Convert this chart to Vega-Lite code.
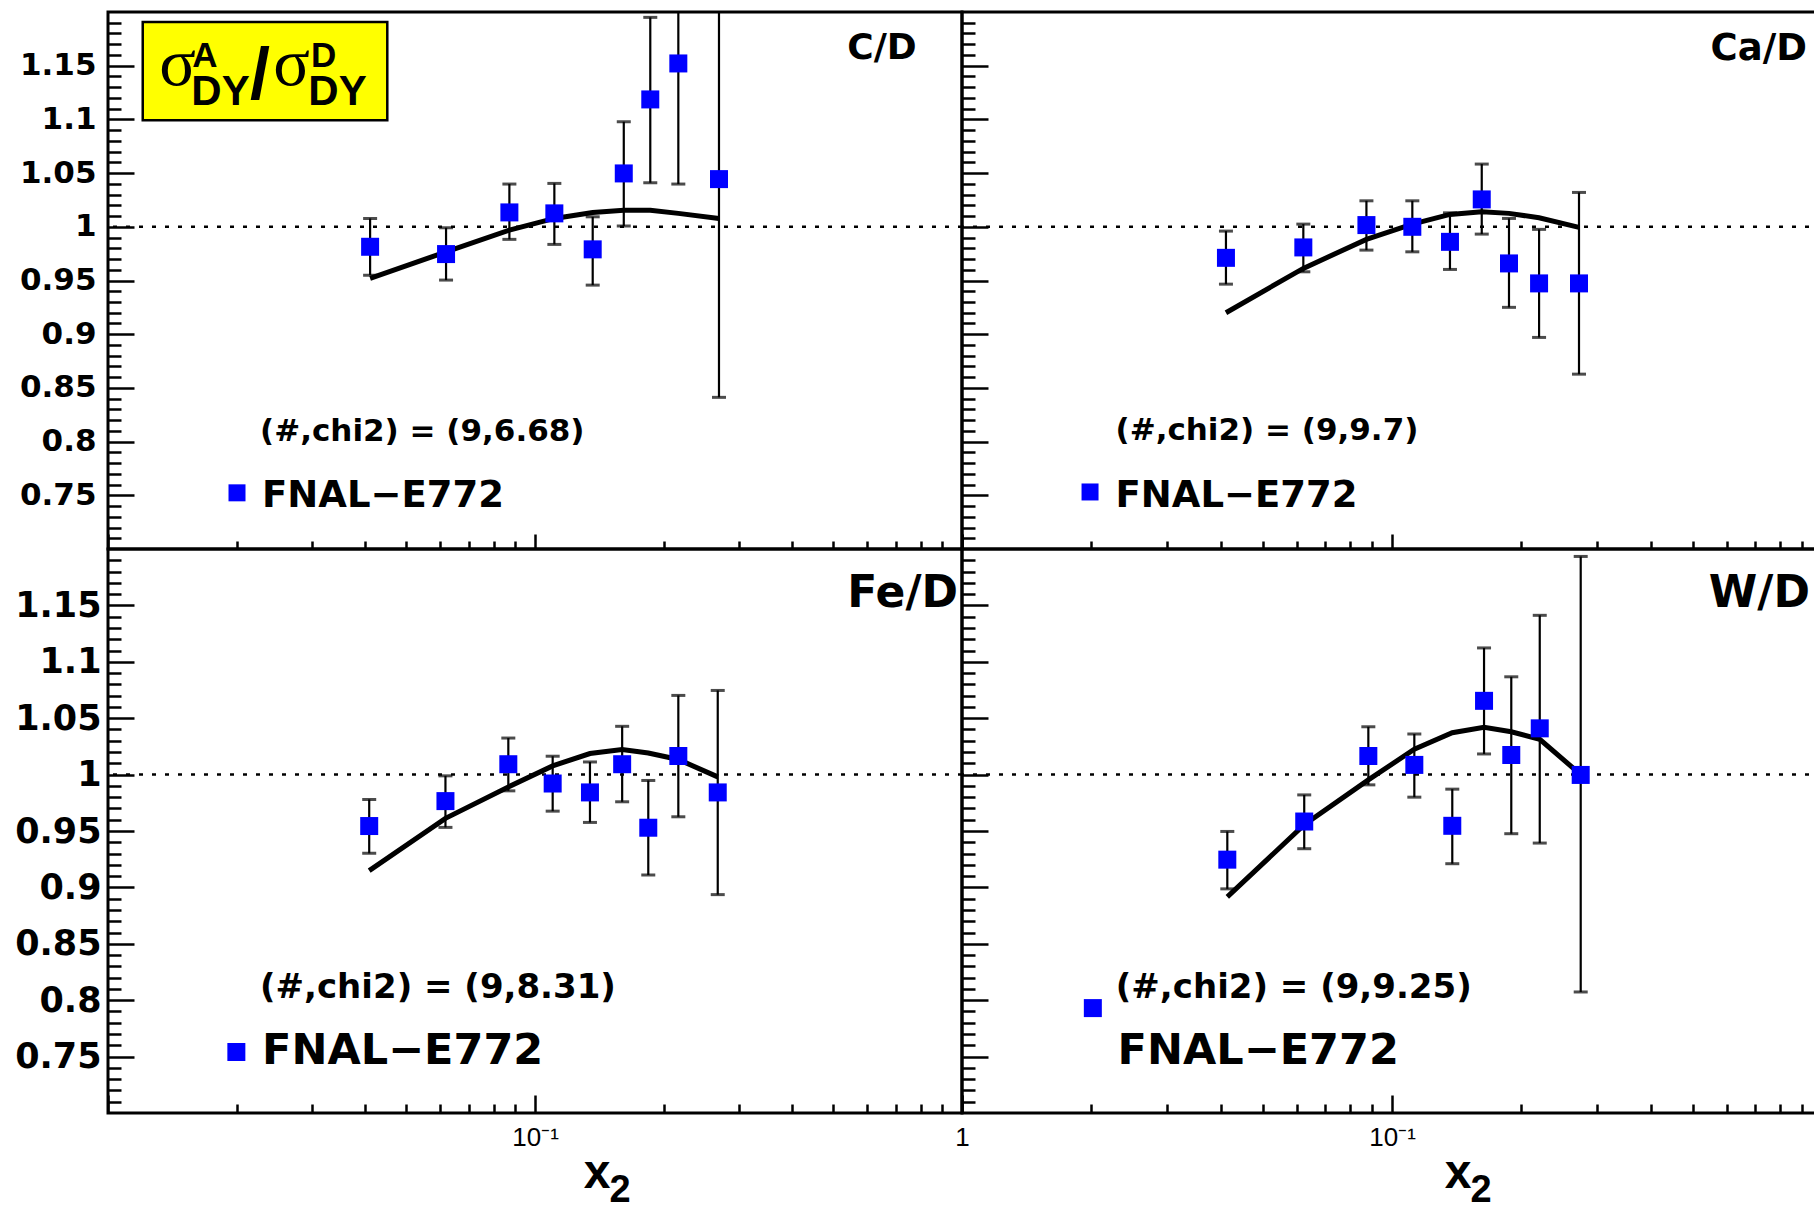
{
  "$schema": "https://vega.github.io/schema/vega-lite/v6.json",
  "background": "white",
  "padding": {"left": 6, "top": 10, "right": 0, "bottom": 0},
  "bounds": "flush",
  "spacing": 0,
  "columns": 2,
  "config": {
    "view": {"stroke": "black", "strokeWidth": 3},
    "axis": {"domain": false, "grid": false, "tickColor": "black", "tickWidth": 2.5, "labelColor": "black", "labelOverlap": false, "labelFlush": false, "ticks": true}
  },
  "datasets": {
    "pts": [
      {"p": "C", "x": 0.0411, "y": 0.9814, "lo": 0.955, "hi": 1.0078},
      {"p": "C", "x": 0.0619, "y": 0.9746, "lo": 0.9504, "hi": 0.9991},
      {"p": "C", "x": 0.0871, "y": 1.0134, "lo": 0.9883, "hi": 1.0398},
      {"p": "C", "x": 0.111, "y": 1.0125, "lo": 0.9836, "hi": 1.0404},
      {"p": "C", "x": 0.1365, "y": 0.979, "lo": 0.9457, "hi": 1.0093},
      {"p": "C", "x": 0.1614, "y": 1.0497, "lo": 1.0007, "hi": 1.0978},
      {"p": "C", "x": 0.1862, "y": 1.1186, "lo": 1.041, "hi": 1.195},
      {"p": "C", "x": 0.2166, "y": 1.1521, "lo": 1.0398, "hi": 1.264},
      {"p": "C", "x": 0.2697, "y": 1.0444, "lo": 0.8412, "hi": 1.2476},
      {"p": "Ca", "x": 0.0411, "y": 0.9711, "lo": 0.9466, "hi": 0.996},
      {"p": "Ca", "x": 0.0622, "y": 0.9808, "lo": 0.9581, "hi": 1.0025},
      {"p": "Ca", "x": 0.0872, "y": 1.0016, "lo": 0.9783, "hi": 1.0242},
      {"p": "Ca", "x": 0.1115, "y": 1.0, "lo": 0.9767, "hi": 1.0242},
      {"p": "Ca", "x": 0.1364, "y": 0.986, "lo": 0.9603, "hi": 1.013},
      {"p": "Ca", "x": 0.1617, "y": 1.0255, "lo": 0.9932, "hi": 1.0584},
      {"p": "Ca", "x": 0.1871, "y": 0.9659, "lo": 0.925, "hi": 1.0078},
      {"p": "Ca", "x": 0.2198, "y": 0.9473, "lo": 0.897, "hi": 0.9976},
      {"p": "Ca", "x": 0.2722, "y": 0.9473, "lo": 0.8628, "hi": 1.032},
      {"p": "Fe", "x": 0.0409, "y": 0.9544, "lo": 0.9302, "hi": 0.978},
      {"p": "Fe", "x": 0.0617, "y": 0.9765, "lo": 0.9532, "hi": 0.9989},
      {"p": "Fe", "x": 0.0866, "y": 1.0092, "lo": 0.9856, "hi": 1.0324},
      {"p": "Fe", "x": 0.110, "y": 0.9921, "lo": 0.9676, "hi": 1.0163},
      {"p": "Fe", "x": 0.1345, "y": 0.9842, "lo": 0.9576, "hi": 1.0112},
      {"p": "Fe", "x": 0.160, "y": 1.0092, "lo": 0.9759, "hi": 1.0428},
      {"p": "Fe", "x": 0.1842, "y": 0.9529, "lo": 0.911, "hi": 0.9948},
      {"p": "Fe", "x": 0.2166, "y": 1.0165, "lo": 0.9626, "hi": 1.0702},
      {"p": "Fe", "x": 0.2679, "y": 0.9842, "lo": 0.8936, "hi": 1.0746},
      {"p": "W", "x": 0.0414, "y": 0.9246, "lo": 0.8987, "hi": 0.9496},
      {"p": "W", "x": 0.0625, "y": 0.9584, "lo": 0.9343, "hi": 0.982},
      {"p": "W", "x": 0.0881, "y": 1.0165, "lo": 0.9909, "hi": 1.0424},
      {"p": "W", "x": 0.1127, "y": 1.0086, "lo": 0.98, "hi": 1.036},
      {"p": "W", "x": 0.1381, "y": 0.9546, "lo": 0.921, "hi": 0.9871},
      {"p": "W", "x": 0.1637, "y": 1.0654, "lo": 1.0183, "hi": 1.1123},
      {"p": "W", "x": 0.1894, "y": 1.0174, "lo": 0.9476, "hi": 1.0867},
      {"p": "W", "x": 0.2206, "y": 1.041, "lo": 0.9393, "hi": 1.1412},
      {"p": "W", "x": 0.2747, "y": 0.9997, "lo": 0.8073, "hi": 1.1934}
    ],
    "curve": [
      {"p": "C", "x": 0.0411, "y": 0.952},
      {"p": "C", "x": 0.0619, "y": 0.9767},
      {"p": "C", "x": 0.0871, "y": 0.9969},
      {"p": "C", "x": 0.111, "y": 1.0078},
      {"p": "C", "x": 0.1365, "y": 1.0134},
      {"p": "C", "x": 0.1614, "y": 1.0155},
      {"p": "C", "x": 0.1862, "y": 1.0155},
      {"p": "C", "x": 0.2166, "y": 1.0125},
      {"p": "C", "x": 0.2697, "y": 1.0078},
      {"p": "Ca", "x": 0.0411, "y": 0.92},
      {"p": "Ca", "x": 0.0622, "y": 0.9613},
      {"p": "Ca", "x": 0.0872, "y": 0.9883},
      {"p": "Ca", "x": 0.1115, "y": 1.0025},
      {"p": "Ca", "x": 0.1364, "y": 1.0115},
      {"p": "Ca", "x": 0.1617, "y": 1.014},
      {"p": "Ca", "x": 0.1871, "y": 1.0125},
      {"p": "Ca", "x": 0.2198, "y": 1.0084},
      {"p": "Ca", "x": 0.2722, "y": 0.9994},
      {"p": "Fe", "x": 0.0409, "y": 0.9149},
      {"p": "Fe", "x": 0.0617, "y": 0.9612},
      {"p": "Fe", "x": 0.0866, "y": 0.9891},
      {"p": "Fe", "x": 0.110, "y": 1.0077},
      {"p": "Fe", "x": 0.1345, "y": 1.0187},
      {"p": "Fe", "x": 0.160, "y": 1.0222},
      {"p": "Fe", "x": 0.1842, "y": 1.0192},
      {"p": "Fe", "x": 0.2166, "y": 1.0134},
      {"p": "Fe", "x": 0.2679, "y": 0.998},
      {"p": "W", "x": 0.0414, "y": 0.8916},
      {"p": "W", "x": 0.0625, "y": 0.9555},
      {"p": "W", "x": 0.0881, "y": 0.9953},
      {"p": "W", "x": 0.1127, "y": 1.0225},
      {"p": "W", "x": 0.1381, "y": 1.0371},
      {"p": "W", "x": 0.1637, "y": 1.0419},
      {"p": "W", "x": 0.1894, "y": 1.038},
      {"p": "W", "x": 0.2206, "y": 1.0313},
      {"p": "W", "x": 0.2747, "y": 1.0}
    ]
  },
  "concat": [
    {
      "width": 854, "height": 537,
      "resolve": {"axis": {"x": "independent", "y": "independent"}},
      "layer": [
        {"data": {"values": [{}]}, "mark": {"type": "rect", "fill": "#ffff00", "stroke": "black", "strokeWidth": 2.5},
         "encoding": {"x": {"datum": 0.01206, "type": "quantitative", "scale": {"type": "log", "domain": [0.01, 1], "nice": false}, "axis": null}, "x2": {"datum": 0.04509},
                      "y": {"datum": 1.1907, "type": "quantitative", "scale": {"domain": [0.7, 1.2], "nice": false, "zero": false}, "axis": null}, "y2": {"datum": 1.0993}}},
        {"data": {"values": [{}]}, "mark": {"type": "rule", "color": "black", "strokeWidth": 2.5, "strokeDash": [4, 9]},
         "encoding": {"y": {"datum": 1, "type": "quantitative", "scale": {"domain": [0.7, 1.2], "nice": false, "zero": false},
           "axis": {"orient": "left", "title": null, "values": [0.75, 0.8, 0.85, 0.9, 0.95, 1, 1.05, 1.1, 1.15], "format": "~g", "tickSize": -26, "labelPadding": 38, "labelFont": "DejaVu Sans", "labelFontWeight": "bold", "labelFontSize": 31, "minExtent": 100, "maxExtent": 100}}}},
        {"data": {"name": "curve"}, "transform": [{"filter": "datum.p == 'C'"}], "mark": {"type": "line", "color": "black", "strokeWidth": 5},
         "encoding": {"x": {"field": "x", "type": "quantitative", "scale": {"type": "log", "domain": [0.01, 1], "nice": false},
           "axis": {"orient": "bottom", "title": null, "values": [0.01, 0.1, 1], "tickSize": -15, "labels": false}},
           "y": {"field": "y", "type": "quantitative", "scale": {"domain": [0.7, 1.2], "nice": false, "zero": false},
           "axis": {"orient": "left", "title": null, "values": [0.71,0.72,0.73,0.74,0.76,0.77,0.78,0.79,0.81,0.82,0.83,0.84,0.86,0.87,0.88,0.89,0.91,0.92,0.93,0.94,0.96,0.97,0.98,0.99,1.01,1.02,1.03,1.04,1.06,1.07,1.08,1.09,1.11,1.12,1.13,1.14,1.16,1.17,1.18,1.19], "tickSize": -13, "labels": false, "minExtent": 100, "maxExtent": 100}}}},
        {"data": {"name": "pts"}, "transform": [{"filter": "datum.p == 'C'"}], "mark": {"type": "rule", "color": "black", "strokeWidth": 2.2, "clip": true},
         "encoding": {"x": {"field": "x", "type": "quantitative", "scale": {"type": "log", "domain": [0.01, 1], "nice": false},
           "axis": {"orient": "bottom", "title": null, "values": [0.02,0.03,0.04,0.05,0.06,0.07,0.08,0.09,0.2,0.3,0.4,0.5,0.6,0.7,0.8,0.9], "tickSize": -8, "labels": false}},
           "y": {"field": "lo", "type": "quantitative", "axis": null}, "y2": {"field": "hi"}}},
        {"data": {"name": "pts"}, "transform": [{"filter": "datum.p == 'C'"}], "mark": {"type": "tick", "orient": "horizontal", "color": "black", "size": 14, "thickness": 3, "clip": true},
         "encoding": {"x": {"field": "x", "type": "quantitative", "axis": null}, "y": {"field": "lo", "type": "quantitative", "axis": null}}},
        {"data": {"name": "pts"}, "transform": [{"filter": "datum.p == 'C'"}], "mark": {"type": "tick", "orient": "horizontal", "color": "black", "size": 14, "thickness": 3, "clip": true},
         "encoding": {"x": {"field": "x", "type": "quantitative", "axis": null}, "y": {"field": "hi", "type": "quantitative", "axis": null}}},
        {"data": {"name": "pts"}, "transform": [{"filter": "datum.p == 'C'"}], "mark": {"type": "point", "shape": "square", "filled": true, "color": "#0000ff", "opacity": 1, "size": 324, "strokeWidth": 0},
         "encoding": {"x": {"field": "x", "type": "quantitative", "axis": null}, "y": {"field": "y", "type": "quantitative", "axis": null}}},
        {"data": {"values": [{}]}, "mark": {"type": "text", "font": "Liberation Serif", "fontSize": 68, "align": "center", "baseline": "alphabetic", "color": "black"},
         "encoding": {"x": {"datum": 0.01455, "type": "quantitative", "axis": null}, "y": {"datum": 1.1318, "type": "quantitative", "axis": null}, "text": {"value": "σ"}}},
        {"data": {"values": [{}]}, "mark": {"type": "text", "font": "Liberation Sans", "fontWeight": "bold", "fontSize": 35, "align": "center", "baseline": "alphabetic", "color": "black"},
         "encoding": {"x": {"datum": 0.01687, "type": "quantitative", "axis": null}, "y": {"datum": 1.1488, "type": "quantitative", "axis": null}, "text": {"value": "A"}}},
        {"data": {"values": [{}]}, "mark": {"type": "text", "font": "Liberation Sans", "fontWeight": "bold", "fontSize": 42, "align": "center", "baseline": "alphabetic", "color": "black"},
         "encoding": {"x": {"datum": 0.01834, "type": "quantitative", "axis": null}, "y": {"datum": 1.1131, "type": "quantitative", "axis": null}, "text": {"value": "DY"}}},
        {"data": {"values": [{}]}, "mark": {"type": "text", "font": "Liberation Sans", "fontWeight": "bold", "fontSize": 72, "align": "center", "baseline": "alphabetic", "color": "black"},
         "encoding": {"x": {"datum": 0.0227, "type": "quantitative", "axis": null}, "y": {"datum": 1.1192, "type": "quantitative", "axis": null}, "text": {"value": "/"}}},
        {"data": {"values": [{}]}, "mark": {"type": "text", "font": "Liberation Serif", "fontSize": 68, "align": "center", "baseline": "alphabetic", "color": "black"},
         "encoding": {"x": {"datum": 0.0269, "type": "quantitative", "axis": null}, "y": {"datum": 1.1318, "type": "quantitative", "axis": null}, "text": {"value": "σ"}}},
        {"data": {"values": [{}]}, "mark": {"type": "text", "font": "Liberation Sans", "fontWeight": "bold", "fontSize": 35, "align": "center", "baseline": "alphabetic", "color": "black"},
         "encoding": {"x": {"datum": 0.03197, "type": "quantitative", "axis": null}, "y": {"datum": 1.1488, "type": "quantitative", "axis": null}, "text": {"value": "D"}}},
        {"data": {"values": [{}]}, "mark": {"type": "text", "font": "Liberation Sans", "fontWeight": "bold", "fontSize": 42, "align": "center", "baseline": "alphabetic", "color": "black"},
         "encoding": {"x": {"datum": 0.03448, "type": "quantitative", "axis": null}, "y": {"datum": 1.1131, "type": "quantitative", "axis": null}, "text": {"value": "DY"}}},
        {"data": {"values": [{}]}, "mark": {"type": "text", "font": "DejaVu Sans", "fontWeight": "bold", "fontSize": 36, "align": "right", "baseline": "alphabetic", "color": "black"},
         "encoding": {"x": {"datum": 0.7834, "type": "quantitative", "axis": null}, "y": {"datum": 1.1566, "type": "quantitative", "axis": null}, "text": {"value": "C/D"}}},
        {"data": {"values": [{}]}, "mark": {"type": "text", "font": "DejaVu Sans", "fontWeight": "bold", "fontSize": 31, "align": "left", "baseline": "alphabetic", "color": "black"},
         "encoding": {"x": {"datum": 0.0227, "type": "quantitative", "axis": null}, "y": {"datum": 0.8003, "type": "quantitative", "axis": null}, "text": {"value": "(#,chi2) = (9,6.68)"}}},
        {"data": {"values": [{}]}, "mark": {"type": "text", "font": "DejaVu Sans", "fontWeight": "bold", "fontSize": 37, "align": "left", "baseline": "alphabetic", "color": "black"},
         "encoding": {"x": {"datum": 0.02295, "type": "quantitative", "axis": null}, "y": {"datum": 0.7388, "type": "quantitative", "axis": null}, "text": {"value": "FNAL−E772"}}},
        {"data": {"values": [{}]}, "mark": {"type": "point", "shape": "square", "filled": true, "color": "#0000ff", "opacity": 1, "size": 289, "strokeWidth": 0},
         "encoding": {"x": {"datum": 0.02005, "type": "quantitative", "axis": null}, "y": {"datum": 0.7523, "type": "quantitative", "axis": null}}}
      ]
    },
    {
      "width": 860, "height": 537,
      "resolve": {"axis": {"x": "independent", "y": "independent"}},
      "layer": [
        {"data": {"values": [{}]}, "mark": {"type": "rule", "color": "black", "strokeWidth": 2.5, "strokeDash": [4, 9]},
         "encoding": {"y": {"datum": 1, "type": "quantitative", "scale": {"domain": [0.7, 1.2], "nice": false, "zero": false},
           "axis": {"orient": "left", "title": null, "values": [0.75, 0.8, 0.85, 0.9, 0.95, 1, 1.05, 1.1, 1.15], "tickSize": -26, "labels": false, "minExtent": 0, "maxExtent": 0}}}},
        {"data": {"name": "curve"}, "transform": [{"filter": "datum.p == 'Ca'"}], "mark": {"type": "line", "color": "black", "strokeWidth": 5},
         "encoding": {"x": {"field": "x", "type": "quantitative", "scale": {"type": "log", "domain": [0.01, 1], "nice": false},
           "axis": {"orient": "bottom", "title": null, "values": [0.01, 0.1, 1], "tickSize": -15, "labels": false}},
           "y": {"field": "y", "type": "quantitative", "scale": {"domain": [0.7, 1.2], "nice": false, "zero": false},
           "axis": {"orient": "left", "title": null, "values": [0.71,0.72,0.73,0.74,0.76,0.77,0.78,0.79,0.81,0.82,0.83,0.84,0.86,0.87,0.88,0.89,0.91,0.92,0.93,0.94,0.96,0.97,0.98,0.99,1.01,1.02,1.03,1.04,1.06,1.07,1.08,1.09,1.11,1.12,1.13,1.14,1.16,1.17,1.18,1.19], "tickSize": -13, "labels": false, "minExtent": 0, "maxExtent": 0}}}},
        {"data": {"name": "pts"}, "transform": [{"filter": "datum.p == 'Ca'"}], "mark": {"type": "rule", "color": "black", "strokeWidth": 2.2, "clip": true},
         "encoding": {"x": {"field": "x", "type": "quantitative", "scale": {"type": "log", "domain": [0.01, 1], "nice": false},
           "axis": {"orient": "bottom", "title": null, "values": [0.02,0.03,0.04,0.05,0.06,0.07,0.08,0.09,0.2,0.3,0.4,0.5,0.6,0.7,0.8,0.9], "tickSize": -8, "labels": false}},
           "y": {"field": "lo", "type": "quantitative", "axis": null}, "y2": {"field": "hi"}}},
        {"data": {"name": "pts"}, "transform": [{"filter": "datum.p == 'Ca'"}], "mark": {"type": "tick", "orient": "horizontal", "color": "black", "size": 14, "thickness": 3, "clip": true},
         "encoding": {"x": {"field": "x", "type": "quantitative", "axis": null}, "y": {"field": "lo", "type": "quantitative", "axis": null}}},
        {"data": {"name": "pts"}, "transform": [{"filter": "datum.p == 'Ca'"}], "mark": {"type": "tick", "orient": "horizontal", "color": "black", "size": 14, "thickness": 3, "clip": true},
         "encoding": {"x": {"field": "x", "type": "quantitative", "axis": null}, "y": {"field": "hi", "type": "quantitative", "axis": null}}},
        {"data": {"name": "pts"}, "transform": [{"filter": "datum.p == 'Ca'"}], "mark": {"type": "point", "shape": "square", "filled": true, "color": "#0000ff", "opacity": 1, "size": 324, "strokeWidth": 0},
         "encoding": {"x": {"field": "x", "type": "quantitative", "axis": null}, "y": {"field": "y", "type": "quantitative", "axis": null}}},
        {"data": {"values": [{}]}, "mark": {"type": "text", "font": "DejaVu Sans", "fontWeight": "bold", "fontSize": 37, "align": "right", "baseline": "alphabetic", "color": "black"},
         "encoding": {"x": {"datum": 0.9226, "type": "quantitative", "axis": null}, "y": {"datum": 1.155, "type": "quantitative", "axis": null}, "text": {"value": "Ca/D"}}},
        {"data": {"values": [{}]}, "mark": {"type": "text", "font": "DejaVu Sans", "fontWeight": "bold", "fontSize": 31, "align": "left", "baseline": "alphabetic", "color": "black"},
         "encoding": {"x": {"datum": 0.02275, "type": "quantitative", "axis": null}, "y": {"datum": 0.8015, "type": "quantitative", "axis": null}, "text": {"value": "(#,chi2) = (9,9.7)"}}},
        {"data": {"values": [{}]}, "mark": {"type": "text", "font": "DejaVu Sans", "fontWeight": "bold", "fontSize": 37, "align": "left", "baseline": "alphabetic", "color": "black"},
         "encoding": {"x": {"datum": 0.02275, "type": "quantitative", "axis": null}, "y": {"datum": 0.7388, "type": "quantitative", "axis": null}, "text": {"value": "FNAL−E772"}}},
        {"data": {"values": [{}]}, "mark": {"type": "point", "shape": "square", "filled": true, "color": "#0000ff", "opacity": 1, "size": 289, "strokeWidth": 0},
         "encoding": {"x": {"datum": 0.01985, "type": "quantitative", "axis": null}, "y": {"datum": 0.7531, "type": "quantitative", "axis": null}}}
      ]
    },
    {
      "width": 854, "height": 564,
      "resolve": {"axis": {"x": "independent", "y": "independent"}},
      "layer": [
        {"data": {"values": [{}]}, "mark": {"type": "rule", "color": "black", "strokeWidth": 2.5, "strokeDash": [4, 9]},
         "encoding": {"y": {"datum": 1, "type": "quantitative", "scale": {"domain": [0.7, 1.2], "nice": false, "zero": false},
           "axis": {"orient": "left", "title": null, "values": [0.75, 0.8, 0.85, 0.9, 0.95, 1, 1.05, 1.1, 1.15], "format": "~g", "tickSize": -26, "labelPadding": 33, "labelFont": "DejaVu Sans", "labelFontWeight": "bold", "labelFontSize": 35, "minExtent": 100, "maxExtent": 100}}}},
        {"data": {"name": "curve"}, "transform": [{"filter": "datum.p == 'Fe'"}], "mark": {"type": "line", "color": "black", "strokeWidth": 5},
         "encoding": {"x": {"field": "x", "type": "quantitative", "scale": {"type": "log", "domain": [0.01, 1], "nice": false},
           "axis": {"orient": "bottom", "title": null, "values": [0.01, 0.1, 1], "tickSize": -18, "labels": true, "labelExpr": "datum.value == 0.1 ? '10⁻¹' : (datum.value == 1 ? '1' : '')", "labelFont": "Liberation Sans", "labelFontSize": 26, "labelPadding": 29, "labelBaseline": "top"}},
           "y": {"field": "y", "type": "quantitative", "scale": {"domain": [0.7, 1.2], "nice": false, "zero": false},
           "axis": {"orient": "left", "title": null, "values": [0.71,0.72,0.73,0.74,0.76,0.77,0.78,0.79,0.81,0.82,0.83,0.84,0.86,0.87,0.88,0.89,0.91,0.92,0.93,0.94,0.96,0.97,0.98,0.99,1.01,1.02,1.03,1.04,1.06,1.07,1.08,1.09,1.11,1.12,1.13,1.14,1.16,1.17,1.18,1.19], "tickSize": -13, "labels": false, "minExtent": 100, "maxExtent": 100}}}},
        {"data": {"name": "pts"}, "transform": [{"filter": "datum.p == 'Fe'"}], "mark": {"type": "rule", "color": "black", "strokeWidth": 2.2, "clip": true},
         "encoding": {"x": {"field": "x", "type": "quantitative", "scale": {"type": "log", "domain": [0.01, 1], "nice": false},
           "axis": {"orient": "bottom", "title": null, "values": [0.02,0.03,0.04,0.05,0.06,0.07,0.08,0.09,0.2,0.3,0.4,0.5,0.6,0.7,0.8,0.9], "tickSize": -9, "labels": false}},
           "y": {"field": "lo", "type": "quantitative", "axis": null}, "y2": {"field": "hi"}}},
        {"data": {"name": "pts"}, "transform": [{"filter": "datum.p == 'Fe'"}], "mark": {"type": "tick", "orient": "horizontal", "color": "black", "size": 14, "thickness": 3, "clip": true},
         "encoding": {"x": {"field": "x", "type": "quantitative", "axis": null}, "y": {"field": "lo", "type": "quantitative", "axis": null}}},
        {"data": {"name": "pts"}, "transform": [{"filter": "datum.p == 'Fe'"}], "mark": {"type": "tick", "orient": "horizontal", "color": "black", "size": 14, "thickness": 3, "clip": true},
         "encoding": {"x": {"field": "x", "type": "quantitative", "axis": null}, "y": {"field": "hi", "type": "quantitative", "axis": null}}},
        {"data": {"name": "pts"}, "transform": [{"filter": "datum.p == 'Fe'"}], "mark": {"type": "point", "shape": "square", "filled": true, "color": "#0000ff", "opacity": 1, "size": 324, "strokeWidth": 0},
         "encoding": {"x": {"field": "x", "type": "quantitative", "axis": null}, "y": {"field": "y", "type": "quantitative", "axis": null}}},
        {"data": {"values": [{}]}, "mark": {"type": "text", "font": "DejaVu Sans", "fontWeight": "bold", "fontSize": 44, "align": "right", "baseline": "alphabetic", "color": "black"},
         "encoding": {"x": {"datum": 0.9786, "type": "quantitative", "axis": null}, "y": {"datum": 1.1485, "type": "quantitative", "axis": null}, "text": {"value": "Fe/D"}}},
        {"data": {"values": [{}]}, "mark": {"type": "text", "font": "DejaVu Sans", "fontWeight": "bold", "fontSize": 34, "align": "left", "baseline": "alphabetic", "color": "black"},
         "encoding": {"x": {"datum": 0.0227, "type": "quantitative", "axis": null}, "y": {"datum": 0.8019, "type": "quantitative", "axis": null}, "text": {"value": "(#,chi2) = (9,8.31)"}}},
        {"data": {"values": [{}]}, "mark": {"type": "text", "font": "DejaVu Sans", "fontWeight": "bold", "fontSize": 43, "align": "left", "baseline": "alphabetic", "color": "black"},
         "encoding": {"x": {"datum": 0.02295, "type": "quantitative", "axis": null}, "y": {"datum": 0.7435, "type": "quantitative", "axis": null}, "text": {"value": "FNAL−E772"}}},
        {"data": {"values": [{}]}, "mark": {"type": "point", "shape": "square", "filled": true, "color": "#0000ff", "opacity": 1, "size": 324, "strokeWidth": 0},
         "encoding": {"x": {"datum": 0.01998, "type": "quantitative", "axis": null}, "y": {"datum": 0.7541, "type": "quantitative", "axis": null}}},
        {"data": {"values": [{}]}, "mark": {"type": "text", "font": "Liberation Sans", "fontWeight": "bold", "fontSize": 48, "align": "center", "baseline": "alphabetic", "color": "black"},
         "encoding": {"x": {"datum": 0.1397, "type": "quantitative", "axis": null}, "y": {"datum": 0.6335, "type": "quantitative", "axis": null}, "text": {"value": "x"}}},
        {"data": {"values": [{}]}, "mark": {"type": "text", "font": "Liberation Sans", "fontWeight": "bold", "fontSize": 38, "align": "center", "baseline": "alphabetic", "color": "black"},
         "encoding": {"x": {"datum": 0.1582, "type": "quantitative", "axis": null}, "y": {"datum": 0.6215, "type": "quantitative", "axis": null}, "text": {"value": "2"}}}
      ]
    },
    {
      "width": 860, "height": 564,
      "resolve": {"axis": {"x": "independent", "y": "independent"}},
      "layer": [
        {"data": {"values": [{}]}, "mark": {"type": "rule", "color": "black", "strokeWidth": 2.5, "strokeDash": [4, 9]},
         "encoding": {"y": {"datum": 1, "type": "quantitative", "scale": {"domain": [0.7, 1.2], "nice": false, "zero": false},
           "axis": {"orient": "left", "title": null, "values": [0.75, 0.8, 0.85, 0.9, 0.95, 1, 1.05, 1.1, 1.15], "tickSize": -26, "labels": false, "minExtent": 0, "maxExtent": 0}}}},
        {"data": {"name": "curve"}, "transform": [{"filter": "datum.p == 'W'"}], "mark": {"type": "line", "color": "black", "strokeWidth": 5},
         "encoding": {"x": {"field": "x", "type": "quantitative", "scale": {"type": "log", "domain": [0.01, 1], "nice": false},
           "axis": {"orient": "bottom", "title": null, "values": [0.01, 0.1, 1], "tickSize": -18, "labels": true, "labelExpr": "datum.value == 0.1 ? '10⁻¹' : ''", "labelFont": "Liberation Sans", "labelFontSize": 26, "labelPadding": 29, "labelBaseline": "top"}},
           "y": {"field": "y", "type": "quantitative", "scale": {"domain": [0.7, 1.2], "nice": false, "zero": false},
           "axis": {"orient": "left", "title": null, "values": [0.71,0.72,0.73,0.74,0.76,0.77,0.78,0.79,0.81,0.82,0.83,0.84,0.86,0.87,0.88,0.89,0.91,0.92,0.93,0.94,0.96,0.97,0.98,0.99,1.01,1.02,1.03,1.04,1.06,1.07,1.08,1.09,1.11,1.12,1.13,1.14,1.16,1.17,1.18,1.19], "tickSize": -13, "labels": false, "minExtent": 0, "maxExtent": 0}}}},
        {"data": {"name": "pts"}, "transform": [{"filter": "datum.p == 'W'"}], "mark": {"type": "rule", "color": "black", "strokeWidth": 2.2, "clip": true},
         "encoding": {"x": {"field": "x", "type": "quantitative", "scale": {"type": "log", "domain": [0.01, 1], "nice": false},
           "axis": {"orient": "bottom", "title": null, "values": [0.02,0.03,0.04,0.05,0.06,0.07,0.08,0.09,0.2,0.3,0.4,0.5,0.6,0.7,0.8,0.9], "tickSize": -9, "labels": false}},
           "y": {"field": "lo", "type": "quantitative", "axis": null}, "y2": {"field": "hi"}}},
        {"data": {"name": "pts"}, "transform": [{"filter": "datum.p == 'W'"}], "mark": {"type": "tick", "orient": "horizontal", "color": "black", "size": 14, "thickness": 3, "clip": true},
         "encoding": {"x": {"field": "x", "type": "quantitative", "axis": null}, "y": {"field": "lo", "type": "quantitative", "axis": null}}},
        {"data": {"name": "pts"}, "transform": [{"filter": "datum.p == 'W'"}], "mark": {"type": "tick", "orient": "horizontal", "color": "black", "size": 14, "thickness": 3, "clip": true},
         "encoding": {"x": {"field": "x", "type": "quantitative", "axis": null}, "y": {"field": "hi", "type": "quantitative", "axis": null}}},
        {"data": {"name": "pts"}, "transform": [{"filter": "datum.p == 'W'"}], "mark": {"type": "point", "shape": "square", "filled": true, "color": "#0000ff", "opacity": 1, "size": 324, "strokeWidth": 0},
         "encoding": {"x": {"field": "x", "type": "quantitative", "axis": null}, "y": {"field": "y", "type": "quantitative", "axis": null}}},
        {"data": {"values": [{}]}, "mark": {"type": "text", "font": "DejaVu Sans", "fontWeight": "bold", "fontSize": 44, "align": "right", "baseline": "alphabetic", "color": "black"},
         "encoding": {"x": {"datum": 0.9376, "type": "quantitative", "axis": null}, "y": {"datum": 1.1485, "type": "quantitative", "axis": null}, "text": {"value": "W/D"}}},
        {"data": {"values": [{}]}, "mark": {"type": "text", "font": "DejaVu Sans", "fontWeight": "bold", "fontSize": 34, "align": "left", "baseline": "alphabetic", "color": "black"},
         "encoding": {"x": {"datum": 0.02279, "type": "quantitative", "axis": null}, "y": {"datum": 0.8017, "type": "quantitative", "axis": null}, "text": {"value": "(#,chi2) = (9,9.25)"}}},
        {"data": {"values": [{}]}, "mark": {"type": "text", "font": "DejaVu Sans", "fontWeight": "bold", "fontSize": 43, "align": "left", "baseline": "alphabetic", "color": "black"},
         "encoding": {"x": {"datum": 0.02301, "type": "quantitative", "axis": null}, "y": {"datum": 0.7435, "type": "quantitative", "axis": null}, "text": {"value": "FNAL−E772"}}},
        {"data": {"values": [{}]}, "mark": {"type": "point", "shape": "square", "filled": true, "color": "#0000ff", "opacity": 1, "size": 324, "strokeWidth": 0},
         "encoding": {"x": {"datum": 0.02015, "type": "quantitative", "axis": null}, "y": {"datum": 0.793, "type": "quantitative", "axis": null}}},
        {"data": {"values": [{}]}, "mark": {"type": "text", "font": "Liberation Sans", "fontWeight": "bold", "fontSize": 48, "align": "center", "baseline": "alphabetic", "color": "black"},
         "encoding": {"x": {"datum": 0.1424, "type": "quantitative", "axis": null}, "y": {"datum": 0.6335, "type": "quantitative", "axis": null}, "text": {"value": "x"}}},
        {"data": {"values": [{}]}, "mark": {"type": "text", "font": "Liberation Sans", "fontWeight": "bold", "fontSize": 38, "align": "center", "baseline": "alphabetic", "color": "black"},
         "encoding": {"x": {"datum": 0.1611, "type": "quantitative", "axis": null}, "y": {"datum": 0.6215, "type": "quantitative", "axis": null}, "text": {"value": "2"}}}
      ]
    }
  ]
}
